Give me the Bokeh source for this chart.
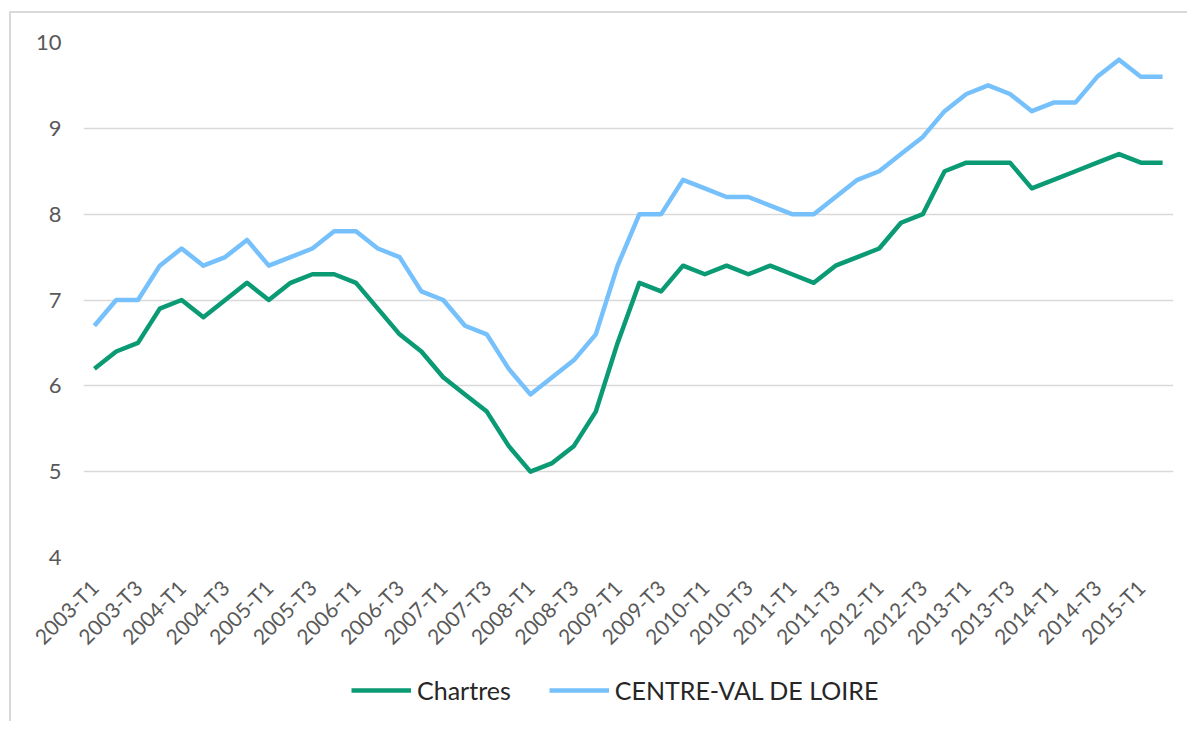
import math
from bokeh.plotting import figure
from bokeh.layouts import column
from bokeh.models import Range1d, FixedTicker, Legend, LegendItem
from bokeh.embed import file_html
from bokeh.resources import INLINE

# Categories (quarters) 2003-T1 .. 2015-T2
quarters = [f"{y}-T{q}" for y in range(2003, 2016) for q in (1, 2, 3, 4)][:50]

chartres = [6.2, 6.4, 6.5, 6.9, 7.0, 6.8, 7.0, 7.2, 7.0, 7.2,
            7.3, 7.3, 7.2, 6.9, 6.6, 6.4, 6.1, 5.9, 5.7, 5.3,
            5.0, 5.1, 5.3, 5.7, 6.5, 7.2, 7.1, 7.4, 7.3, 7.4,
            7.3, 7.4, 7.3, 7.2, 7.4, 7.5, 7.6, 7.9, 8.0, 8.5,
            8.6, 8.6, 8.6, 8.3, 8.4, 8.5, 8.6, 8.7, 8.6, 8.6]

centre = [6.7, 7.0, 7.0, 7.4, 7.6, 7.4, 7.5, 7.7, 7.4, 7.5,
          7.6, 7.8, 7.8, 7.6, 7.5, 7.1, 7.0, 6.7, 6.6, 6.2,
          5.9, 6.1, 6.3, 6.6, 7.4, 8.0, 8.0, 8.4, 8.3, 8.2,
          8.2, 8.1, 8.0, 8.0, 8.2, 8.4, 8.5, 8.7, 8.9, 9.2,
          9.4, 9.5, 9.4, 9.2, 9.3, 9.3, 9.6, 9.8, 9.6, 9.6]

y_ticks = [4, 5, 6, 7, 8, 9, 10]
series_names = ["Chartres", "CENTRE-VAL DE LOIRE"]

GREEN = "#0A9A74"
BLUE = "#76C1FC"
FONT = "Lato"
LW = 4.5

xs = list(range(len(quarters)))

# ---- main chart ----
p = figure(frame_width=1090, frame_height=515, output_backend="svg", toolbar_location=None,
           x_range=Range1d(-0.5, len(quarters) - 0.5), y_range=Range1d(4, 10),
           min_border_left=72, min_border_right=14, min_border_top=29,
           min_border_bottom=104)

p.line(xs, chartres, line_color=GREEN, line_width=LW, line_join="round")
p.line(xs, centre, line_color=BLUE, line_width=LW, line_join="round")

p.outline_line_color = None
p.background_fill_color = "white"
p.border_fill_color = "white"

p.xgrid.visible = False
p.ygrid.grid_line_color = "#d9d9d9"
p.ygrid.grid_line_width = 1.5

xa = p.xaxis[0]
xa.ticker = FixedTicker(ticks=list(range(0, len(quarters), 2)))
xa.major_label_overrides = {i: quarters[i] for i in range(0, len(quarters), 2)}
xa.major_label_orientation = math.pi / 4
xa.major_label_text_font = FONT
xa.major_label_text_font_size = "21px"
xa.major_label_text_color = "#595959"
xa.axis_line_color = None
xa.major_tick_line_color = None
xa.minor_tick_line_color = None
xa.major_label_standoff = 20

ya = p.yaxis[0]
ya.ticker = FixedTicker(ticks=y_ticks)
ya.major_label_text_font = FONT
ya.major_label_text_font_size = "22px"
ya.major_label_text_color = "#595959"
ya.axis_line_color = None
ya.major_tick_line_color = None
ya.minor_tick_line_color = None
ya.major_label_standoff = 16

# ---- legend strip ----
p2 = figure(width=1176, height=60, output_backend="svg", toolbar_location=None,
            x_range=Range1d(0, 1), y_range=Range1d(0, 1),
            x_axis_location=None, y_axis_location=None, min_border=0)
p2.grid.visible = False
p2.outline_line_color = None
p2.background_fill_color = "white"
p2.border_fill_color = "white"
# legend proxies (kept outside the visible range)
g1 = p2.line(x=[-2, -1], y=[-2, -2], line_color=GREEN, line_width=LW)
g2 = p2.line(x=[-2, -1], y=[-2, -2], line_color=BLUE, line_width=LW)

legend = Legend(items=[LegendItem(label=series_names[0], renderers=[g1]),
                       LegendItem(label=series_names[1], renderers=[g2])],
                orientation="horizontal", location=(268, 16),
                glyph_width=60, glyph_height=28, label_standoff=6, spacing=38,
                label_text_font=FONT, label_text_font_size="25px",
                label_text_color="#262626", border_line_color=None,
                background_fill_alpha=0, padding=0, margin=0)
p2.add_layout(legend, "center")

lay = column(p, p2, spacing=0)
lay.margin = (11, 0, 0, 9)
lay.styles = {"border-top": "2px solid #d9d9d9", "border-left": "2px solid #d9d9d9"}

open("out.html", "w").write(file_html(lay, INLINE))
